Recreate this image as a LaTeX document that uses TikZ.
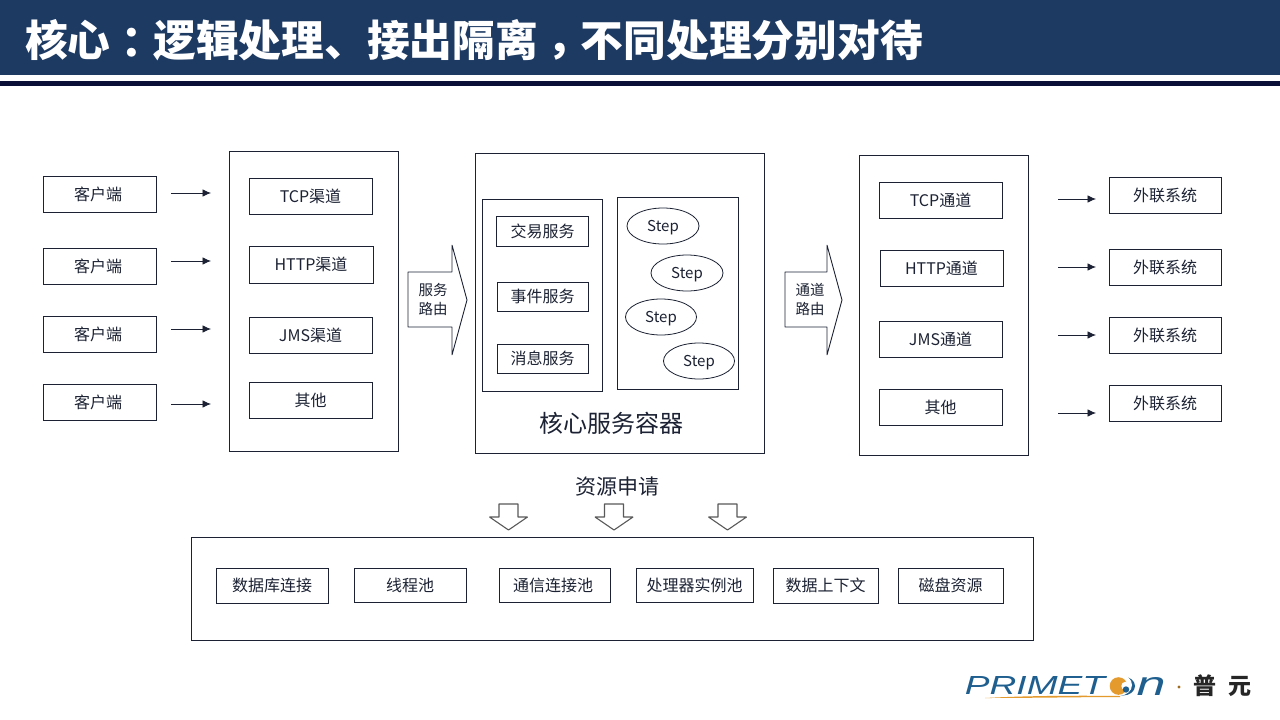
\documentclass[tikz,border=0pt]{standalone}
\usepackage{fontspec}
\usepackage{graphicx}
\setmainfont{Noto Sans CJK SC}
\newfontfamily\tcfont{Noto Sans CJK TC}
\newfontfamily\logofont{Liberation Sans}
\definecolor{headerblue}{HTML}{1D3A63}
\definecolor{rulenavy}{HTML}{0A0F38}
\definecolor{inkdark}{HTML}{1C2233}
\definecolor{logoblue}{HTML}{1F5F8F}
\definecolor{logoorange}{HTML}{E59A2E}
\tikzset{
  x=1pt,y=-1pt,
  plainbox/.style={draw=inkdark,line width=0.9pt,fill=white,inner sep=0pt,outer sep=0pt,text=inkdark,font=\fontsize{16}{18}\selectfont,align=center},
  stepnode/.style={draw=inkdark,line width=0.8pt,ellipse,inner sep=0pt,outer sep=0pt,text=inkdark,font=\fontsize{15}{17}\selectfont},
  flow/.style={draw=inkdark,line width=0.8pt,-{Latex[length=8.5pt,width=7.5pt]}},
  blockarrow/.style={draw=inkdark,line width=0.9pt,fill=white},
  hollowarrow/.style={draw=black!65,line width=1.1pt,fill=white,line join=miter},
  arrowtext/.style={inner sep=0pt,text=inkdark,font=\fontsize{14.5}{19}\selectfont,align=center},
}
\usetikzlibrary{arrows.meta,shapes.geometric}
% rectangle node given by its corners: name, x0, y0, x1, y1, label
\newcommand{\bx}[6]{%
  \pgfmathsetmacro{\bxw}{#4-#2}\pgfmathsetmacro{\bxh}{#5-#3}%
  \pgfmathsetmacro{\bxcx}{(#2+#4)/2}\pgfmathsetmacro{\bxcy}{(#3+#5)/2}%
  \node[plainbox,minimum width=\bxw pt,minimum height=\bxh pt] (#1) at (\bxcx,\bxcy) {#6};}
\newcommand{\stepword}{\raisebox{-2pt}[\height][\depth]{Step}}
\newcommand{\clientword}{\hspace*{-3pt}客户端}
\begin{document}
\begin{tikzpicture}
\useasboundingbox (0,0) rectangle (1280,720);
\fill[white] (0,0) rectangle (1280,720);

% header band
\fill[headerblue] (0,0) rectangle (1280,75);
\fill[rulenavy] (0,81) rectangle (1280,86);
\node[anchor=west,inner sep=0pt,text=white,font=\fontsize{42.75}{46}\bfseries\selectfont] (title) at (25,40)
  {核心\raisebox{-2pt}[0pt][0pt]{\tcfont ：}逻辑处理、接出隔离\raisebox{-10pt}[0pt][0pt]{\tcfont ，}不同处理分别对待};

% outer containers
\bx{chan}{229}{151}{398}{451}{}
\bx{core}{475}{153}{764}{453}{}
\bx{out}{859}{155}{1028}{455}{}
\bx{pool}{191}{537}{1033}{640}{}

% clients
\bx{c1}{43}{176}{156}{212}{\clientword}
\bx{c2}{43}{248}{156}{284}{\clientword}
\bx{c3}{43}{316}{156}{352}{\clientword}
\bx{c4}{43}{384}{156}{420}{\clientword}

% inbound channels
\bx{i1}{249}{178}{372}{214}{TCP渠道}
\bx{i2}{249}{246}{373}{283}{HTTP渠道}
\bx{i3}{249}{317}{372}{353}{JMS渠道}
\bx{i4}{249}{382}{372}{418}{其他}

% core service container
\bx{svc}{482}{199}{602}{391}{}
\bx{steps}{617.5}{197.5}{738.5}{389.5}{}
\bx{s1}{496.5}{216.5}{588.5}{246.5}{交易服务}
\bx{s2}{497}{282}{588}{311.5}{事件服务}
\bx{s3}{497}{344}{588}{373.5}{消息服务}
\node[stepnode,minimum width=72pt,minimum height=36pt] (e1) at (663,226) {\stepword};
\node[stepnode,minimum width=72pt,minimum height=36pt] (e2) at (687,273) {\stepword};
\node[stepnode,minimum width=71pt,minimum height=36pt] (e3) at (661,317) {\stepword};
\node[stepnode,minimum width=71pt,minimum height=36pt] (e4) at (699,361) {\stepword};
\node[inner sep=0pt,text=inkdark,font=\fontsize{24}{26}\selectfont] (corelabel) at (611,423) {核心服务容器};

% outbound channels
\bx{o1}{879}{182}{1002}{218}{TCP通道}
\bx{o2}{880}{250}{1003}{286}{HTTP通道}
\bx{o3}{879}{321}{1002}{357}{JMS通道}
\bx{o4}{879}{389}{1002}{425}{其他}

% external systems
\bx{x1}{1109}{177}{1221}{213}{外联系统}
\bx{x2}{1109}{249}{1221}{285}{外联系统}
\bx{x3}{1109}{317}{1221}{353}{外联系统}
\bx{x4}{1109}{385}{1221}{421}{外联系统}

% small flow arrows on both sides
\foreach \n/\y in {1/193,2/261,3/329,4/404}{
  \coordinate (la\n) at (171,\y);
  \coordinate (lb\n) at (211,\y);
  \draw[flow] (la\n) -- (lb\n);
}
\foreach \n/\y in {1/199,2/267,3/335,4/413}{
  \coordinate (ra\n) at (1058,\y);
  \coordinate (rb\n) at (1096,\y);
  \draw[flow] (ra\n) -- (rb\n);
}

% routing block arrows
\draw[blockarrow,line join=bevel] (408,272) -- (452,272) -- (452,245) -- (467,300) -- (452,355) -- (452,327) -- (408,327) -- cycle;
\node[arrowtext] (route1) at (433,299) {服务\\路由};
\draw[blockarrow,line join=bevel] (785,272) -- (827,272) -- (827,245) -- (842,300) -- (827,355) -- (827,327) -- (785,327) -- cycle;
\node[arrowtext] (route2) at (810,299) {通道\\路由};

% resource request
\node[inner sep=0pt,text=inkdark,font=\fontsize{21}{23}\selectfont] (reqlabel) at (617,487) {资源申请};
\foreach \cx in {508.5,614,727.5}{
  \draw[hollowarrow,line join=bevel] (\cx-9.5,504) -- (\cx+9.5,504) -- (\cx+9.5,517) -- (\cx+19,517) -- (\cx,530) -- (\cx-19,517) -- (\cx-9.5,517) -- cycle;
}

% resource pool
\bx{r1}{216}{568}{328}{603}{数据库连接}
\bx{r2}{354}{568}{466}{602}{线程池}
\bx{r3}{499}{568}{610}{602}{\hspace*{-3pt}通信连接池}
\bx{r4}{636}{568}{753}{602}{处理器实例池}
\bx{r5}{773}{568}{878}{603}{数据上下文}
\bx{r6}{898}{568}{1003}{603}{磁盘资源}

% vendor mark
\node[inner sep=0pt,text=logoblue,font=\logofont\itshape] (logoa) at (1035,685.5) {\resizebox{140pt}{18pt}{PRIMET}};
\fill[logoblue] (1123,686) ellipse[x radius=12,y radius=9.5];
\fill[white] (1120,685) ellipse[x radius=12,y radius=10.5];
\fill[logoorange] (1118.5,686) circle[radius=8.8];
\fill[white] (1125.5,686) circle[radius=4.2];
\fill[logoblue] (1126,689.5) circle[radius=3.2];
\node[inner sep=0pt,text=logoblue,font=\logofont\itshape] (logob) at (1151,686) {\resizebox{29pt}{18pt}{n}};
\fill[logoorange] (985,698) .. controls (1030,695.5) and (1085,695.5) .. (1120,696) -- (1120,697) .. controls (1085,697) and (1030,698) .. (985,698) -- cycle;
\fill[logoorange!70!black] (1179,687) circle[radius=1.6];
\node[inner sep=0pt,text=black!85,font=\fontsize{23}{25}\bfseries\selectfont] (logoc) at (1205,686) {普};
\node[inner sep=0pt,text=black!85,font=\fontsize{23}{25}\bfseries\selectfont] (logod) at (1240,686) {元};
\end{tikzpicture}
\end{document}
